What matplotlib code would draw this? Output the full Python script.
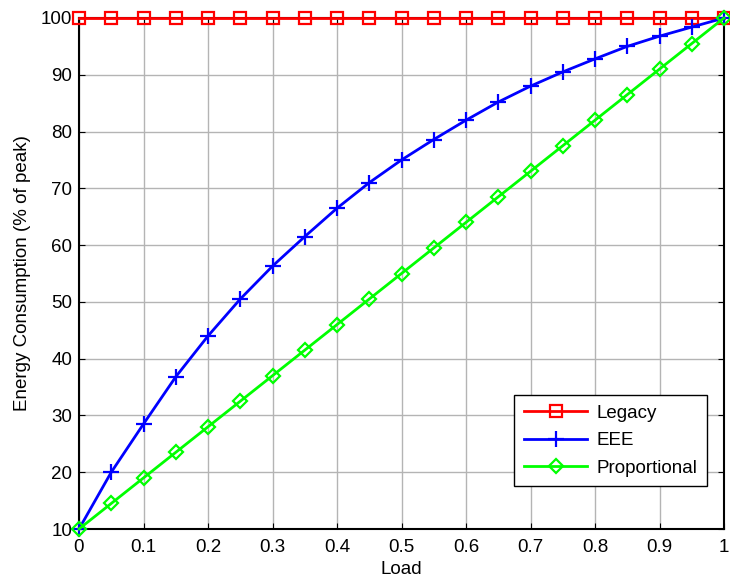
import numpy as np
import matplotlib.pyplot as plt

plt.rcParams['font.family'] = ['Liberation Sans', 'DejaVu Sans']

load = [0, 0.05, 0.1, 0.15, 0.2, 0.25, 0.3, 0.35, 0.4, 0.45, 0.5,
        0.55, 0.6, 0.65, 0.7, 0.75, 0.8, 0.85, 0.9, 0.95, 1.0]
legacy = [100] * 21
eee = [10, 20, 28.5, 36.8, 44, 50.5, 56.3, 61.5, 66.5, 71, 75,
       78.6, 82, 85.2, 88, 90.5, 92.8, 95, 96.8, 98.4, 100]
proportional = [10, 14.5, 19, 23.5, 28, 32.5, 37, 41.5, 46, 50.5, 55,
                59.5, 64, 68.5, 73, 77.5, 82, 86.5, 91, 95.5, 100]
xtick_labels = ["0", "0.1", "0.2", "0.3", "0.4", "0.5", "0.6", "0.7", "0.8", "0.9", "1"]

fig = plt.figure(figsize=(7.3, 5.8), dpi=100)
# right edge pulled in a little so the "1" tick label is not cut off
ax = fig.add_axes([79/730, 1 - 529/580, 645/730, 511/580])

ax.plot(load, legacy, c="#ff0000", lw=2, marker="s", ms=8.5, mew=1.6,
        mfc="none", label="Legacy", clip_on=False, zorder=3)
ax.plot(load, eee, c="#0000ff", lw=2, marker="+", ms=11, mew=1.6,
        label="EEE", clip_on=False, zorder=3)
ax.plot(load, proportional, c="#00ff00", lw=2, marker="D", ms=7.5, mew=1.6,
        mfc="none", label="Proportional", clip_on=False, zorder=3)

ax.set_xlim(0, 1)
ax.set_ylim(10, 100)
ax.set_xticks(np.arange(0, 1.01, 0.1))
ax.set_xticklabels(xtick_labels)
ax.set_yticks(np.arange(10, 101, 10))
ax.tick_params(direction="in", top=True, right=True, labelsize=13.5, length=4)
ax.tick_params(axis="x", pad=7.5)
ax.tick_params(axis="y", pad=5)
ax.grid(True, color="#b4b4b4", lw=1)
for s in ax.spines.values():
    s.set_linewidth(1.5)

ax.set_xlabel("Load", fontsize=13.5, labelpad=3.5)
ax.set_ylabel("Energy Consumption (% of peak)", fontsize=13.5, labelpad=7)

leg = ax.legend(loc="lower right", bbox_to_anchor=(707/730, 1 - 486/580), bbox_transform=fig.transFigure,
                borderaxespad=0, fontsize=13.5, fancybox=False, framealpha=1, edgecolor="black",
                handlelength=3.4, borderpad=0.5, labelspacing=0.55, handletextpad=0.5)
leg.get_frame().set_linewidth(1)

fig.savefig("out.png")
